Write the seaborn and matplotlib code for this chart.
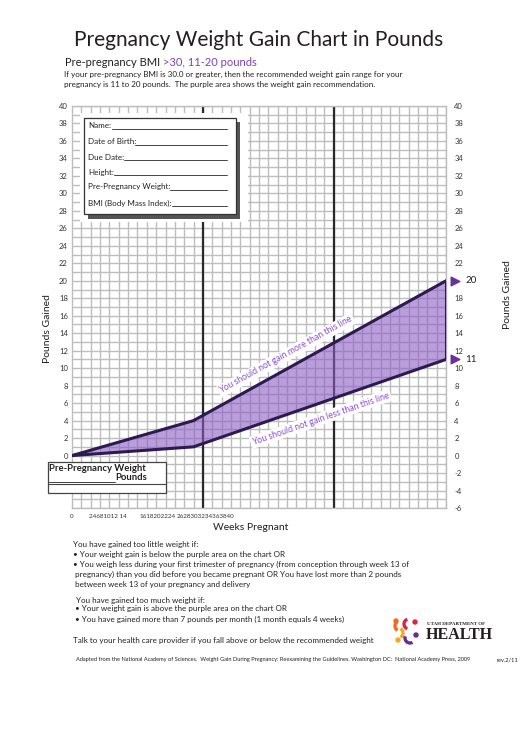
import numpy as np
import pandas as pd
import matplotlib.pyplot as plt
import seaborn as sns
from matplotlib.patches import Rectangle, Arc, Circle

# data: recommended gain for BMI >= 30 (11-20 lb)
weeks = [0, 13, 40]
upper_gain = [0, 4, 20]
lower_gain = [0, 1, 11]
trimester_weeks = [14, 28]
left_ticks = list(range(0, 41, 2))
right_ticks = [v for v in range(-6, 41, 2) if v != 20]
x_tick_pos = [0, 3.85, 9.1, 14.33]
x_tick_labels = ["0", "24681012 14", "1618202224", "2628303234363840"]
form_fields = ["Name:", "Date of Birth:", "Due Date:", "Height:",
               "Pre-Pregnancy Weight:", "BMI (Body Mass Index):"]

df = pd.DataFrame({"week": weeks, "upper": upper_gain, "lower": lower_gain})

sns.set_style("white")
plt.rcParams["font.family"] = ["Lato", "DejaVu Sans"]

W, H = 530, 749
fig = plt.figure(figsize=(W / 100, H / 100), dpi=100)
TXT = "#231f20"
PURPLE = "#7b3fbf"


def fx(px):
    return px / W


def fy(py):
    return 1 - py / H


# main grid axes
ax = fig.add_axes([fx(72), fy(508), fx(446) - fx(72), fy(106) - fy(508)])
ax.set_xlim(0, 40)
ax.set_ylim(-6, 40)
ax.set_xticks(range(0, 41), minor=True)
ax.set_yticks(range(-6, 41), minor=True)
ax.set_yticks(left_ticks)
ax.set_yticklabels([str(v) for v in left_ticks], fontsize=5.5, color="#333333")
ax.set_xticks(x_tick_pos)
ax.set_xticklabels(x_tick_labels, fontsize=4.5, color="#333333")
ax.tick_params(which="both", length=0)
ax.tick_params(axis="y", pad=3)
ax.tick_params(axis="x", pad=4)
ax.xaxis.grid(True, which="minor", color="#bdbdbd", lw=1.0)
ax.yaxis.grid(True, which="both", color="#bdbdbd", lw=1.0)
for s in ax.spines.values():
    s.set_color("#bdbdbd")
    s.set_linewidth(1.0)
ax.set_axisbelow(True)

for w in trimester_weeks:
    ax.axvline(w, color="#2a2a2a", lw=1.6, zorder=2)

ax.fill_between(df["week"], df["lower"], df["upper"], color="#8c5cc4", alpha=0.6,
                lw=0, zorder=3)
sns.lineplot(data=df, x="week", y="upper", ax=ax, color="#2b1b4f", lw=2.2, zorder=4)
sns.lineplot(data=df, x="week", y="lower", ax=ax, color="#2b1b4f", lw=2.2, zorder=4)
ax.plot([weeks[-1], weeks[-1]], [lower_gain[-1], upper_gain[-1]], color="#2b1b4f",
        lw=2.2, zorder=4, solid_capstyle="round")
ax.set_xlabel("")
ax.set_ylabel("")

# line annotations
up_ang = np.degrees(np.arctan2(upper_gain[2] - upper_gain[1], weeks[2] - weeks[1]))
lo_ang = np.degrees(np.arctan2(lower_gain[2] - lower_gain[1], weeks[2] - weeks[1]))
ax.text(22.9, 11.5, "You should not gain more than this line", rotation=up_ang,
        transform_rotates_text=True, rotation_mode="anchor", ha="center", va="center",
        fontsize=6.3, color="#8a4fd0", zorder=5,
        bbox=dict(boxstyle="square,pad=0.2", fc="white", ec="none"))
ax.text(26.6, 4.2, "You should not gain less than this line", rotation=lo_ang,
        transform_rotates_text=True, rotation_mode="anchor", ha="center", va="center",
        fontsize=6.3, color="#8a4fd0", zorder=5,
        bbox=dict(boxstyle="square,pad=0.2", fc="white", ec="none"))

# end markers at week 40
ax.scatter([41, 41], [upper_gain[-1], lower_gain[-1]], marker=">", s=38,
           color="#6a2fa0", clip_on=False, zorder=6)
ax.text(42.1, upper_gain[-1], str(upper_gain[-1]), fontsize=7, va="center", color=TXT)
ax.text(42.1, lower_gain[-1], str(lower_gain[-1]), fontsize=7, va="center", color=TXT)

# right axis
ax2 = ax.twinx()
ax2.set_ylim(-6, 40)
ax2.set_yticks(right_ticks)
ax2.set_yticklabels([str(v) for v in right_ticks], fontsize=5.5, color="#333333")
ax2.tick_params(length=0, pad=6)
for s in ax2.spines.values():
    s.set_visible(False)

# name form box
fig.add_artist(Rectangle((fx(80), fy(222)), fx(248) - fx(80), fy(113) - fy(222),
                         transform=fig.transFigure, fc="white", ec="none", zorder=10))
fig.add_artist(Rectangle((fx(88), fy(219)), fx(240) - fx(88), fy(122) - fy(219),
                         transform=fig.transFigure, fc="#555555", ec="none", zorder=11))
fig.add_artist(Rectangle((fx(84), fy(214)), fx(236) - fx(84), fy(118) - fy(214),
                         transform=fig.transFigure, fc="white", ec="#333333", lw=0.9, zorder=12))
field_y = [126, 142, 157, 172, 187, 203]
line_x0 = [112, 135, 124, 114, 170, 172]
for lab, py, x0 in zip(form_fields, field_y, line_x0):
    fig.text(fx(88), fy(py), lab, fontsize=5.8, color=TXT, va="center", zorder=13)
    fig.add_artist(plt.Line2D([fx(x0), fx(227)], [fy(py + 3), fy(py + 3)],
                              transform=fig.transFigure, color="#444444", lw=0.7, zorder=13))

# pre-pregnancy weight box
fig.add_artist(Rectangle((fx(48), fy(493)), fx(166) - fx(48), fy(462) - fy(493),
                         transform=fig.transFigure, fc="white", ec="#444444", lw=0.9, zorder=12))
fig.add_artist(plt.Line2D([fx(48), fx(166)], [fy(484), fy(484)], transform=fig.transFigure,
                          color="#444444", lw=0.8, zorder=13))
fig.text(fx(49), fy(469), "Pre-Pregnancy Weight", fontsize=6.8, fontweight="bold",
         color=TXT, va="center", zorder=13)
fig.add_artist(plt.Line2D([fx(49), fx(115)], [fy(482), fy(482)], transform=fig.transFigure,
                          color="#444444", lw=0.7, zorder=13))
fig.text(fx(115), fy(478), "Pounds", fontsize=6.8, fontweight="bold",
         color=TXT, va="center", zorder=13)

# axis labels
fig.text(fx(47), fy(329), "Pounds Gained", rotation=90, fontsize=7.5, color=TXT,
         ha="center", va="center")
fig.text(fx(508), fy(295), "Pounds Gained", rotation=90, fontsize=7.5, color=TXT,
         ha="center", va="center")
fig.text(fx(251), fy(528), "Weeks Pregnant", fontsize=7.5, color=TXT, ha="center", va="center")

# header
fig.text(fx(259), fy(40), "Pregnancy Weight Gain Chart in Pounds", fontsize=15,
         color=TXT, ha="center", va="center")
t = fig.text(fx(65), fy(63), "Pre-pregnancy BMI ", fontsize=8.0, color=TXT, va="center")
fig.canvas.draw()
bb = t.get_window_extent()
fig.text(bb.x1 / W, fy(63), ">30, 11-20 pounds", fontsize=8.0, color=PURPLE, va="center")
fig.text(fx(64), fy(74), "If your pre-pregnancy BMI is 30.0 or greater, then the recommended weight gain range for your",
         fontsize=5.8, color=TXT, va="center")
fig.text(fx(64), fy(85), "pregnancy is 11 to 20 pounds.  The purple area shows the weight gain recommendation.",
         fontsize=5.8, color=TXT, va="center")

# bottom notes
notes = [
    (73, 544, "You have gained too little weight if:"),
    (73, 554, "\u2022 Your weight gain is below the purple area on the chart OR"),
    (73, 564, "\u2022 You weigh less during your first trimester of pregnancy (from conception through week 13 of"),
    (75, 574, "pregnancy) than you did before you became pregnant OR You have lost more than 2 pounds"),
    (75, 584, "between week 13 of your pregnancy and delivery"),
    (76, 601, "You have gained too much weight if:"),
    (75, 609, "\u2022 Your weight gain is above the purple area on the chart OR"),
    (75, 619, "\u2022 You have gained more than 7 pounds per month (1 month equals 4 weeks)"),
    (73, 641, "Talk to your health care provider if you fall above or below the recommended weight"),
]
for px, py, s in notes:
    fig.text(fx(px), fy(py), s, fontsize=5.75, color=TXT, va="center")
fig.text(fx(76), fy(660), "Adapted from the National Academy of Sciences.  Weight Gain During Pregnancy: "
         "Reexamining the Guidelines. Washington DC:  National Academy Press, 2009",
         fontsize=4.1, color=TXT, va="center")
fig.text(fx(497), fy(660), "rev.2/11", fontsize=4.1, color=TXT, va="center")

# logo
lax = fig.add_axes([fx(390), fy(646), fx(420) - fx(390), fy(614) - fy(646)])
lax.set_xlim(390, 420)
lax.set_ylim(646, 614)
lax.set_aspect("equal")
lax.axis("off")
logo = [("#f26b21", (396, 621), (400, 626), 120, 230),
        ("#d7263d", (415, 622), (409, 624), 110, 250),
        ("#f9a81b", (398, 640), (398, 633), 300, 60),
        ("#6b2c8f", (416, 635), (410, 638), 60, 200)]
for c, dot, cen, a1, a2 in logo:
    lax.add_patch(Circle(dot, 2.0, color=c))
    lax.add_patch(Arc(cen, 10, 10, theta1=a1, theta2=a2, color=c, lw=2.4))
fig.text(fx(427), fy(624), "UTAH DEPARTMENT OF", fontsize=3.6, fontweight="bold",
         family="Liberation Serif", color=TXT, va="center")
fig.text(fx(426), fy(635), "HEALTH", fontsize=11.5, fontweight="bold",
         family="Liberation Serif", color=TXT, va="center")

fig.savefig("out.png", dpi=100)
